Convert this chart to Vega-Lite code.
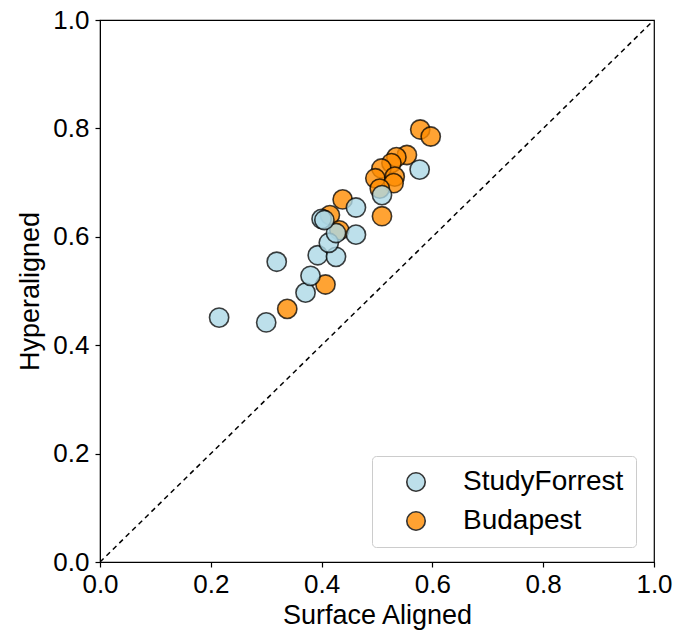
{
  "$schema": "https://vega.github.io/schema/vega-lite/v6.json",
  "autosize": "none",
  "width": 554,
  "height": 542,
  "padding": {"left": 100, "top": 20, "right": 34, "bottom": 71},
  "background": "white",
  "config": {
    "font": "Liberation Sans",
    "view": {"stroke": "black", "strokeWidth": 1.2},
    "axis": {
      "grid": false,
      "domainColor": "black",
      "tickColor": "black",
      "tickSize": 5,
      "tickWidth": 1.2,
      "labelFontSize": 26,
      "titleFontSize": 27,
      "labelColor": "black",
      "titleColor": "black",
      "titleFontWeight": "normal",
      "labelPadding": 4,
      "labelFlush": false,
      "labelOverlap": false
    }
  },
  "datasets": {
    "pts": [
      {"group": "Budapest", "surface": 0.338, "hyper": 0.467},
      {"group": "Budapest", "surface": 0.407, "hyper": 0.512},
      {"group": "Budapest", "surface": 0.415, "hyper": 0.640},
      {"group": "Budapest", "surface": 0.438, "hyper": 0.669},
      {"group": "Budapest", "surface": 0.509, "hyper": 0.638},
      {"group": "Budapest", "surface": 0.432, "hyper": 0.612},
      {"group": "Budapest", "surface": 0.554, "hyper": 0.751},
      {"group": "Budapest", "surface": 0.535, "hyper": 0.747},
      {"group": "Budapest", "surface": 0.526, "hyper": 0.736},
      {"group": "Budapest", "surface": 0.508, "hyper": 0.726},
      {"group": "Budapest", "surface": 0.497, "hyper": 0.708},
      {"group": "Budapest", "surface": 0.532, "hyper": 0.711},
      {"group": "Budapest", "surface": 0.530, "hyper": 0.699},
      {"group": "Budapest", "surface": 0.505, "hyper": 0.689},
      {"group": "Budapest", "surface": 0.578, "hyper": 0.798},
      {"group": "Budapest", "surface": 0.597, "hyper": 0.785},
      {"group": "StudyForrest", "surface": 0.215, "hyper": 0.451},
      {"group": "StudyForrest", "surface": 0.300, "hyper": 0.442},
      {"group": "StudyForrest", "surface": 0.319, "hyper": 0.554},
      {"group": "StudyForrest", "surface": 0.371, "hyper": 0.497},
      {"group": "StudyForrest", "surface": 0.380, "hyper": 0.528},
      {"group": "StudyForrest", "surface": 0.393, "hyper": 0.566},
      {"group": "StudyForrest", "surface": 0.426, "hyper": 0.563},
      {"group": "StudyForrest", "surface": 0.413, "hyper": 0.589},
      {"group": "StudyForrest", "surface": 0.426, "hyper": 0.607},
      {"group": "StudyForrest", "surface": 0.462, "hyper": 0.604},
      {"group": "StudyForrest", "surface": 0.400, "hyper": 0.633},
      {"group": "StudyForrest", "surface": 0.405, "hyper": 0.631},
      {"group": "StudyForrest", "surface": 0.462, "hyper": 0.654},
      {"group": "StudyForrest", "surface": 0.509, "hyper": 0.677},
      {"group": "StudyForrest", "surface": 0.577, "hyper": 0.724}
    ],
    "diag": [
      {"surface": 0, "hyper": 0},
      {"surface": 1, "hyper": 1}
    ]
  },
  "layer": [
    {
      "data": {"name": "diag"},
      "mark": {"type": "line", "color": "black", "strokeDash": [5, 4], "strokeWidth": 1.5, "clip": true},
      "encoding": {
        "x": {"field": "surface", "type": "quantitative"},
        "y": {"field": "hyper", "type": "quantitative"}
      }
    },
    {
      "data": {"name": "pts"},
      "mark": {"type": "point", "shape": "circle", "filled": true, "size": 370, "fillOpacity": 0.8, "stroke": "black", "strokeOpacity": 0.75, "strokeWidth": 1.6},
      "encoding": {
        "x": {
          "field": "surface", "type": "quantitative", "title": "Surface Aligned",
          "scale": {"domain": [0, 1], "nice": false, "zero": false},
          "axis": {"values": [0, 0.2, 0.4, 0.6, 0.8, 1.0], "format": ".1f", "titlePadding": 5}
        },
        "y": {
          "field": "hyper", "type": "quantitative", "title": "Hyperaligned",
          "scale": {"domain": [0, 1], "nice": false, "zero": false},
          "axis": {"values": [0, 0.2, 0.4, 0.6, 0.8, 1.0], "format": ".1f", "titlePadding": 8, "labelPadding": 6}
        },
        "color": {
          "field": "group", "type": "nominal",
          "scale": {"domain": ["StudyForrest", "Budapest"], "range": ["#add8e6", "#ff8c00"]},
          "legend": {
            "title": null,
            "orient": "none",
            "legendX": 272,
            "legendY": 436,
            "padding": 12,
            "symbolOffset": 18,
            "symbolSize": 340,
            "symbolType": "circle",
            "symbolStrokeColor": "black",
            "symbolStrokeWidth": 1.6,
            "symbolOpacity": 0.8,
            "labelFontSize": 28,
            "labelOffset": 33,
            "labelLimit": 400,
            "labelColor": "black",
            "rowPadding": 11,
            "strokeColor": "#cccccc",
            "cornerRadius": 4,
            "fillColor": "white"
          }
        }
      }
    }
  ]
}
